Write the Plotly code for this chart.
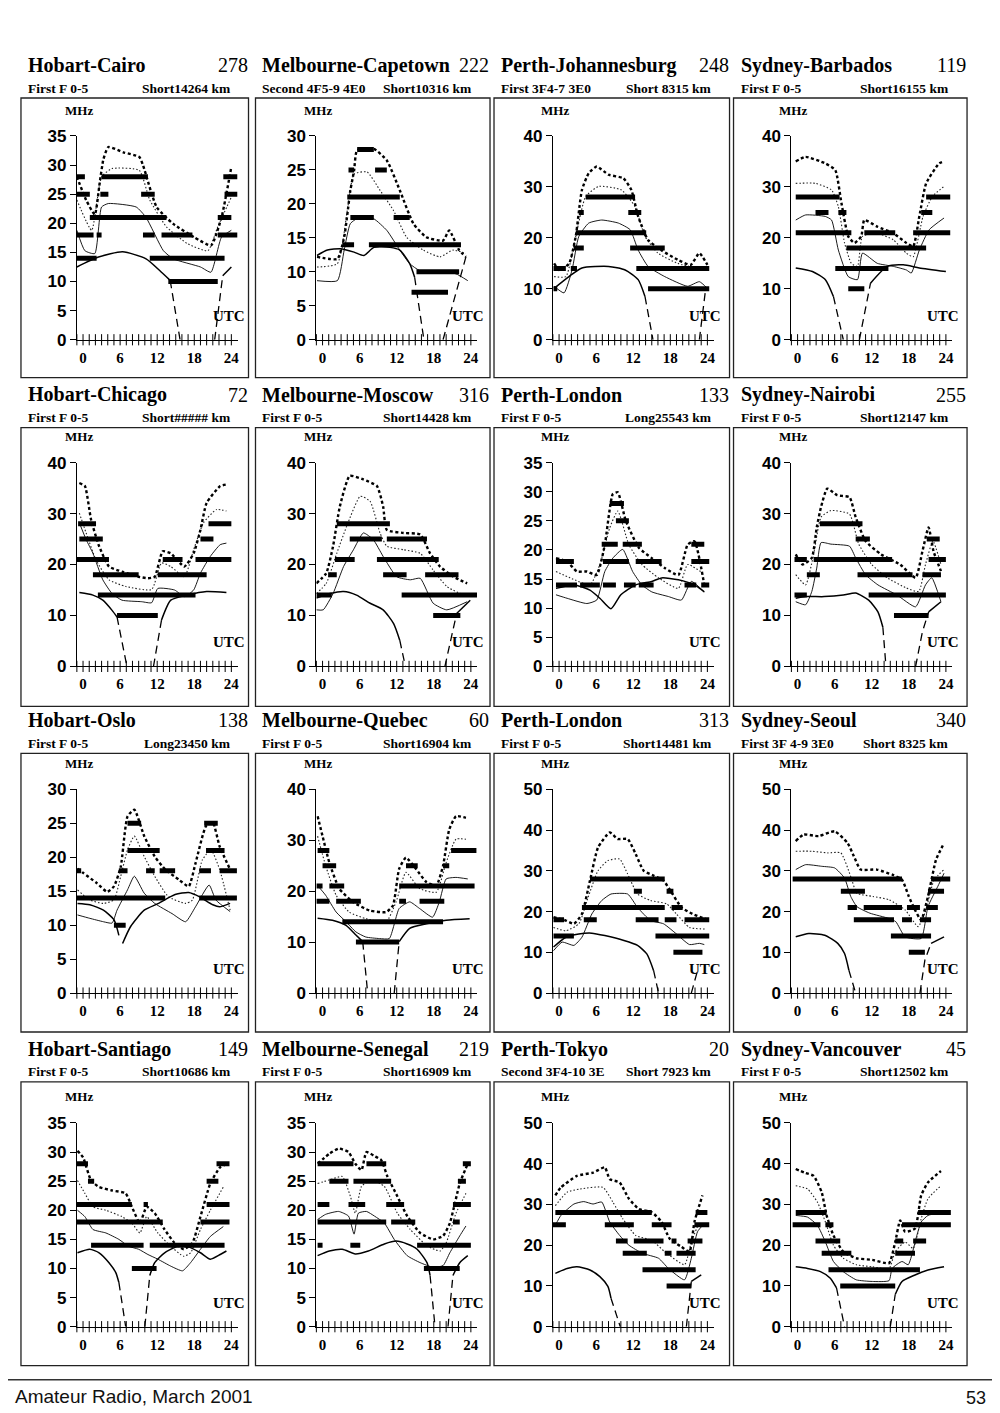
import plotly.graph_objects as go

# ---------------- panel text ----------------
TITLES = ["Hobart-Cairo", "Melbourne-Capetown", "Perth-Johannesburg", "Sydney-Barbados",
          "Hobart-Chicago", "Melbourne-Moscow", "Perth-London", "Sydney-Nairobi",
          "Hobart-Oslo", "Melbourne-Quebec", "Perth-London", "Sydney-Seoul",
          "Hobart-Santiago", "Melbourne-Senegal", "Perth-Tokyo", "Sydney-Vancouver"]
NUMBERS = ["278", "222", "248", "119", "72", "316", "133", "255",
           "138", "60", "313", "340", "149", "219", "20", "45"]
MODES = ["First F 0-5", "Second 4F5-9 4E0", "First 3F4-7 3E0", "First F 0-5",
         "First F 0-5", "First F 0-5", "First F 0-5", "First F 0-5",
         "First F 0-5", "First F 0-5", "First F 0-5", "First 3F 4-9 3E0",
         "First F 0-5", "First F 0-5", "Second 3F4-10 3E", "First F 0-5"]
PATHS = ["Short14264 km", "Short10316 km", "Short 8315 km", "Short16155 km",
         "Short##### km", "Short14428 km", "Long25543 km", "Short12147 km",
         "Long23450 km", "Short16904 km", "Short14481 km", "Short 8325 km",
         "Short10686 km", "Short16909 km", "Short 7923 km", "Short12502 km"]
Y_MAX = [35, 30, 40, 40, 40, 40, 35, 40, 30, 40, 50, 50, 35, 35, 50, 50]
Y_STEP = [5, 5, 10, 10, 10, 10, 5, 10, 5, 10, 10, 10, 5, 5, 10, 10]
X_TICKS = [0, 6, 12, 18, 24]
HOUR_MARKS = list(range(-1, 25))

# ---------------- data: (UTC hour, MHz) ----------------
P01_UP = [(-1, 28), (0.5, 24), (1.9, 21.5), (2.7, 27), (3.3, 31), (4.1, 33.1), (6.5, 32.2), (9.1, 31.4), (9.7, 30),
          (11.9, 22.8), (14.6, 19.9), (18, 17.6), (20.7, 16.2), (22.4, 21), (24, 29.7)]
P01_MID = [(-1, 24), (1.4, 18.8), (3, 28), (4.7, 29.4), (9.1, 29.1), (10.8, 24), (13.5, 19.4), (16.9, 16.5),
           (20.2, 15.3), (21.8, 19.4), (24, 24.5)]
P01_LOW = [(-1, 18.8), (0.3, 15.3), (1.9, 14.8), (3, 22.8), (4.1, 23.4), (8.6, 22.8), (10.2, 21), (13, 15.3),
           (14.6, 13.9), (19, 12.5), (20.7, 11.6), (22.4, 17.6), (24, 18.8)]
P01_ALF = [(-1, 12.5), (2.5, 14.2), (6.4, 15.1), (10.2, 13.9), (12.4, 11.9), (14.1, 10.2), None, (22.6, 11), (24, 12.5)]
P01_DASH = [(14.1, 10.2), (15.7, 0), None, (21.3, 0), (22.6, 11)]
P01_BARS = [(28, -1, 0.3), (28, 3, 10.5), (28, 22.7, 25), (25, -1, 1.1), (25, 2.8, 4.1), (25, 9.4, 11.6),
            (25, 22.9, 25), (21, 1.1, 13.5), (21, 21.8, 24), (18, -1, 1.7), (18, 2.2, 3), (18, 9.7, 11.6),
            (18, 12.7, 17.7), (18, 21.8, 25), (14, -1, 2.2), (14, 10.8, 22.9), (10, 13.8, 21.8)]

P02_UP = [(-0.9, 12.2), (2.4, 11.9), (3.5, 15.1), (4.5, 22), (5.1, 24.9), (5.6, 27.9), (8.3, 28.1), (10.4, 26.4),
          (12.5, 22), (14.7, 17.1), (16.8, 15.1), (19.5, 14.6), (20.5, 16.1), (22.1, 13.2), (23.2, 12.2)]
P02_MID = [(-0.9, 10.7), (2.4, 11.2), (4, 19), (5.1, 24.4), (7.2, 24.7), (9.3, 22), (11.5, 19), (13.6, 15.1),
           (16.3, 13.2), (19, 12.2), (21.1, 13.2), (23.2, 12.7)]
P02_LOW = [(-0.9, 8.7), (2.4, 8.7), (3.5, 13.2), (4.5, 17.1), (6.1, 18.1), (8.3, 17.8), (10.4, 16.1), (12.5, 13.2),
           (14.1, 11.2), (15.7, 10.2), (19, 10), (21.6, 9.7), (23.5, 8.7)]
P02_ALF = [(-0.9, 12.4), (0.8, 13.2), (2.9, 13.4), (5.1, 12.9), (6.7, 12.4), (8.3, 13.6), (10.9, 13.6), (12.5, 13.2),
           (14.1, 11.2), (14.9, 9.2)]
P02_DASH = [(14.9, 9.2), (16.4, 0), None, (19.5, 0), (23.2, 12.2)]
P02_BARS = [(28, 5.6, 8.3), (25, 4.2, 5.1), (25, 8.5, 10.4), (21, 4, 12.5), (18, 4.5, 8.3), (18, 11.5, 14.1),
            (14, 3.2, 5.1), (14, 7.5, 22.4), (10, 15.2, 22.1), (7, 14.4, 20.3)]

P03_UP = [(-0.8, 15), (0, 13.7), (1.6, 14.9), (2.7, 20.3), (3.7, 29.4), (4.8, 32.7), (6.1, 34), (8, 32.4),
          (10.4, 31.7), (11.7, 29.4), (12.8, 24.2), (14.4, 19.6), (16.5, 17.6), (19.2, 15.7), (21.3, 14.7),
          (22.7, 17), (24, 14.7)]
P03_MID = [(-0.8, 12.4), (1.1, 12.4), (2.7, 20.3), (4.3, 28.1), (6.4, 30.1), (10.1, 29.4), (12.3, 26.1),
           (13.9, 20.3), (16, 17), (19.2, 15), (23.5, 13.7)]
P03_LOW = [(-0.8, 10.5), (0.8, 9.2), (2.1, 13.7), (3.2, 20.3), (4.8, 22.9), (6.9, 23.5), (9.6, 22.9), (11.5, 21.6),
           (12.8, 17.6), (14.4, 14.4), (17.1, 12.4), (20.8, 10.5), (22.7, 11.4), (24, 10.1)]
P03_ALF = [(-0.8, 10.1), (1.6, 12.4), (3.7, 14.1), (8, 14.4), (10.7, 13.7), (12.8, 11.8), (13.9, 8.5)]
P03_DASH = [(13.9, 8.5), (15.2, 0), None, (22.7, 0), (23.7, 9.8)]
P03_BARS = [(28, 4.3, 12.3), (25, 3.2, 4), (25, 11.2, 13.3), (21, 2.7, 14.1), (18, 2.4, 4), (18, 11.5, 17.1),
            (14, -0.9, 1.1), (14, 1.9, 2.9), (14, 12.5, 24.3), (10, -0.9, -0.3), (10, 14.4, 24.3)]

P04_UP = [(-0.3, 35), (1.3, 35.9), (4.5, 34.6), (6.1, 33.3), (7.1, 26.8), (8.2, 20.3), (9.2, 19), (10.3, 20.3),
          (10.8, 23.5), (12.9, 22.2), (15.5, 20.9), (17.6, 19), (18.7, 18.3), (19.7, 24.2), (20.8, 30.7),
          (22.9, 34.6), (23.7, 35)]
P04_MID = [(-0.3, 30.7), (2.9, 30.7), (5.5, 29.4), (6.6, 26.1), (7.6, 19), (8.7, 15), (9.7, 14.4), (10.5, 20.3),
           (12.9, 20.9), (15.5, 19.6), (17.6, 17), (18.7, 16.3), (20.3, 24.2), (21.8, 28.1), (23.7, 30.1)]
P04_LOW = [(-0.3, 23.5), (1.3, 24.5), (4.5, 24.2), (5.5, 23.5), (6.6, 17.6), (8.2, 12.4), (9.7, 11.8), (10.5, 17),
           (12.9, 15), (15.5, 14.4), (17.6, 13.7), (18.4, 13.1), (19.7, 17.6), (21.3, 21.6), (23.7, 23.9)]
P04_ALF = [(-0.3, 14.1), (2.4, 13.4), (4.5, 11.8), (5.8, 8.5), None, (11.8, 11.1), (14.5, 14.4), (17.1, 14.7),
           (19.7, 14.1), (24, 13.4)]
P04_DASH = [(5.8, 8.5), (7.4, 0), None, (10, 0), (11.8, 11.1)]
P04_BARS = [(28, -0.3, 6.8), (28, 20.8, 24.7), (25, 2.9, 5), (25, 6.6, 7.9), (25, 20, 21.8), (21, -0.3, 8.7),
            (21, 10.8, 15.8), (21, 18.7, 24.7), (18, 7.9, 20.8), (14, 6.1, 14.7), (10, 8.2, 10.8)]

P05_UP = [(-0.6, 36), (0.3, 35.4), (1.3, 28.8), (2.6, 23.6), (4.2, 19.6), (6.3, 18.6), (9, 17.6), (10.5, 17.3),
          (11.6, 17.6), (12.9, 22.6), (14.2, 22.2), (16.4, 19.6), (17.9, 22.2), (19, 26.8), (20, 32.1),
          (22.2, 35.4), (23.2, 35.7)]
P05_MID = [(-0.6, 30.1), (0.5, 26.2), (2.1, 20.9), (4.2, 17), (6.9, 15.7), (11.1, 15.1), (12.7, 20.3), (14.2, 19.6),
           (16.4, 17.6), (17.9, 22.9), (19.5, 28.2), (21.6, 30.8), (23.2, 30.5)]
P05_LOW = [(-0.6, 28.2), (0.5, 24.9), (1.6, 22.2), (3.2, 17), (4.7, 14.3), (6.3, 13), (9.5, 12.7), (11.1, 12.5),
           (12.1, 15.3), (14.8, 15), (16.4, 13.7), (17.9, 15), (19, 18.3), (20.6, 21.6), (22.2, 23.9), (23.2, 24.2)]
P05_ALF = [(-0.6, 14.5), (1.6, 14), (3.2, 13), (4.7, 11), (5.5, 9.7), None, (12.7, 9.1), (14.2, 13), (16.9, 14),
           (20, 14.7), (23.2, 14.5)]
P05_DASH = [(5.5, 9.7), (7.1, 0), None, (11.4, 0), (12.7, 9.1)]
P05_BARS = [(28, -0.8, 2.1), (28, 20.3, 24), (25, -0.6, 3.2), (25, 19, 21.1), (21, -1, 4.2), (21, 12.9, 16.1),
            (21, 18.2, 24), (18, 1.6, 9), (18, 12.1, 20), (14, 2.4, 18.2), (10, 5.5, 12.1)]

P06_UP = [(-1, 16.3), (0.6, 18.3), (1.7, 23.6), (2.8, 31.4), (4.4, 37.4), (6.6, 36.7), (8.8, 35.4), (9.8, 31.4),
          (10.4, 26.8), (13.1, 26.2), (15.8, 25.9), (17.4, 22.2), (19, 19.6), (21.2, 17.6), (23.4, 16.3)]
P06_MID = [(-1, 14.3), (0.6, 16.3), (2.3, 22.2), (3.9, 27.5), (6.1, 33.4), (7.7, 32.4), (9.3, 26.2), (10.4, 23.6),
           (13.1, 22.9), (15.8, 22.2), (17.9, 18.9), (20.1, 15.7), (22.8, 14)]
P06_LOW = [(-1, 11.1), (0.1, 11.1), (1.7, 14.3), (3.4, 19.6), (5, 22.9), (6.6, 26.2), (8.2, 24.9), (9.8, 21.6),
           (12, 17.6), (14.2, 17), (15.8, 17.3), (17.9, 12.4), (20.1, 11.1), (23.4, 12.7)]
P06_ALF = [(-1, 13.4), (1.2, 14.3), (3.4, 14.7), (5.5, 14), (7.7, 12.4), (9.8, 11.1), (11.5, 8.4), (12.5, 5.1),
           None, (21.7, 10.4), (23.9, 13)]
P06_DASH = [(12.5, 5.1), (13.4, 0), None, (19.8, 0), (21.7, 10.4)]
P06_BARS = [(28, 2.3, 10.9), (25, 4.4, 9.6), (25, 10.4, 16.9), (21, 2, 5.2), (21, 8.8, 18.8), (18, 0.9, 2.3),
            (18, 9.8, 13.6), (18, 16.6, 22), (14, -1, 1.5), (14, 12.8, 25), (10, 17.9, 22.3)]

P07_UP = [(-0.5, 18.6), (1.3, 18), (2.9, 16.3), (4.5, 16.3), (6.1, 15.7), (7.4, 20.9), (8.7, 29.6), (9.5, 29.9),
          (10.8, 25), (12.9, 20.4), (15, 18.6), (17.1, 16.9), (19.3, 15.7), (20.8, 20.9), (21.9, 21.5), (23.5, 14)]
P07_MID = [(-0.5, 16.3), (1.8, 15.2), (5, 14), (6.6, 17.5), (8.2, 23.8), (9.5, 26.7), (11.3, 20.9), (13.4, 17.5),
           (16.1, 15.2), (19.3, 13.4), (20.8, 17.5), (22.9, 16.3)]
P07_LOW = [(-0.5, 12.3), (1.3, 11.7), (4.5, 10.8), (6.1, 11.4), (7.4, 16.3), (8.7, 18.6), (10.3, 20.1),
           (11.9, 16.3), (13.4, 14), (15, 12.8), (17.7, 12), (19.8, 11.4), (21.4, 14.6), (23.5, 12.8)]
P07_ALF = [(-0.5, 13.4), (2.4, 14), (5, 13.1), (6.6, 11.7), (8.4, 9.9), (10, 12.3), (12.4, 14), (15, 14.6),
           (16.6, 15.2), (19.3, 14.9), (21.9, 14), (23.5, 12.8)]
P07_DASH = []
P07_BARS = [(28, 8.2, 10.5), (25, 9.2, 11.3), (21, 6.9, 9.5), (21, 10.3, 13.4), (21, 21.4, 23.5), (18, -0.5, 2.4),
            (18, 7.1, 11.3), (18, 12.4, 16.6), (18, 21.4, 24.3), (14, -0.5, 2.9), (14, 3.4, 6.6), (14, 7.1, 9.2),
            (14, 10.5, 12.4), (14, 12.9, 15.3), (14, 20.3, 22.2), (14, 23, 24.3)]

P08_UP = [(-0.3, 22), (0.8, 20), (2.3, 21.3), (3.1, 27.3), (3.8, 31.3), (4.8, 34.9), (6.4, 33.6), (8.4, 33.2),
          (9.4, 29.3), (11, 24.6), (13.5, 22), (16.6, 20), (19.1, 17.4), (20.2, 22.6), (21.2, 27.3), (22, 22.6),
          (23.2, 18.7)]
P08_MID = [(-0.3, 18), (1.3, 16), (2.6, 22), (3.8, 29.3), (5.4, 30.6), (8.4, 29.9), (9.9, 24), (12, 20),
           (14.5, 17.4), (17.6, 15.4), (19.6, 14.7), (20.7, 20), (21.9, 24.6), (23.2, 20)]
P08_LOW = [(-0.3, 12.7), (1.3, 12.1), (2.3, 14.7), (3.1, 19.3), (3.8, 24.3), (5.4, 24), (8.4, 23.6), (9.4, 21.3),
           (11, 18), (13, 16), (16.1, 14), (19.1, 11.7), (20.7, 16), (21.7, 17.4), (23.2, 12.7)]
P08_ALF = [(-0.3, 13.4), (1.3, 13.7), (4.3, 13.7), (7.4, 14), (9.4, 14.4), (11.5, 13), (13, 10.7), (13.8, 7.7),
           None, (21.2, 10.7), (23.2, 12.7)]
P08_DASH = [(13.8, 7.7), (14.3, 0), None, (19.1, 0), (20.2, 6.8), (21.2, 10.7)]
P08_BARS = [(28, 3.6, 10.5), (25, 9.4, 11.7), (25, 20.9, 23), (21, -0.5, 1.5), (21, 2.6, 15.3), (21, 21.2, 24),
            (18, 1.5, 3.6), (18, 9.7, 18.6), (18, 20.2, 23.2), (14, -0.5, 1.5), (14, 11.5, 24), (10, 15.6, 21.2)]

P09_UP = [(-0.9, 18.3), (0, 17.7), (2.2, 16.2), (3.9, 14.9), (5, 15.7), (6.1, 18.6), (7.2, 26), (8.3, 27),
          (9.9, 23.1), (11.6, 20.1), (13.3, 18.2), (15.5, 16.7), (17.1, 15.7), (18.2, 19.1), (19.9, 24.6),
          (21, 25.1), (22.1, 21.6), (23.8, 18.2)]
P09_MID = [(-0.9, 15.2), (1.1, 13.7), (3.3, 13.2), (5, 13.7), (6.1, 17.2), (7.2, 21.1), (8.3, 23.1), (9.9, 20.1),
           (11.6, 17.2), (13.8, 14.2), (16.6, 13.2), (17.7, 13.7), (19.3, 19.6), (20.7, 21.1), (22.1, 18.2),
           (23.8, 12.2)]
P09_LOW = [(-0.9, 11.5), (1.1, 11), (3.3, 10.5), (4.7, 10.3), (5.5, 12.2), (7.2, 15.2), (8.3, 17.2), (9.9, 14.7),
           (11.6, 13.2), (14.4, 11.7), (16.6, 10.5), (18.2, 12.7), (20.4, 15.9), (21.5, 13.7), (23.8, 12)]
P09_ALF = [(-0.9, 13.2), (1.1, 13), (3.3, 12.2), (5, 10.8), (5.8, 8.5), None, (6.4, 7.3), (7.7, 9.8), (9.9, 12.2),
           (12.2, 13.2), (14.9, 14.5), (17.1, 14.8), (18.8, 14.2), (21, 13), (22.1, 12.7), (23.8, 13.2)]
P09_DASH = []
P09_BARS = [(25, 7.2, 9.4), (25, 19.6, 21.8), (21, 7.2, 12.4), (21, 19.9, 22.9), (18, -1, -0.3), (18, 5.8, 7.2),
            (18, 10.2, 11.6), (18, 12.4, 14.9), (18, 18.8, 20.7), (18, 22.1, 24.9), (14, -1, 13.3),
            (14, 18.8, 24.9), (10, 5, 6.9)]

P10_UP = [(-0.8, 34.7), (0, 30.8), (1.1, 25.6), (2.7, 20.5), (4.9, 17.9), (7.6, 16.2), (10.3, 15.9), (11.4, 17.2),
          (12.4, 24.4), (13.5, 26.6), (15.1, 24.4), (16.8, 21.8), (18.4, 21.1), (19.5, 25), (20.5, 32.1),
          (21.6, 34.7), (23.2, 34.4)]
P10_MID = [(-0.8, 30.8), (0.5, 25), (2.2, 19.2), (4.3, 15.9), (7, 14.6), (10.3, 14), (11.9, 17.9), (13.5, 23.7),
           (15.7, 20.5), (18.4, 19.8), (20, 25.6), (21.6, 30.2), (23.2, 30.2)]
P10_LOW = [(-0.8, 21.1), (0.5, 19.2), (2.2, 15.9), (3.8, 14), (5.4, 12), (7, 11), (9.2, 10.7), (10.8, 10.7),
           (12.4, 16.6), (14.1, 17.9), (15.7, 16.6), (17.8, 14.9), (18.9, 17.9), (20, 22.4), (21.6, 22.7),
           (23.5, 22.4)]
P10_ALF = [(-0.8, 14.7), (1.6, 14.3), (3.8, 13.3), (5.4, 11.4), (6.5, 10.1), None, (12.4, 10.1), (14.1, 12.7),
           (16.8, 13.6), (20, 14.3), (23.8, 14.6)]
P10_DASH = [(6.5, 10.1), (7.3, 0), None, (11.6, 0), (12.4, 10.1)]
P10_BARS = [(28, -0.8, 1.1), (28, 20.8, 24.9), (25, 0, 2.2), (25, 13.5, 15.4), (25, 19.5, 20.5), (21, -1, 0),
            (21, 1.1, 3.5), (21, 12.4, 24.6), (18, -1, 1.1), (18, 2.2, 6.2), (18, 12.4, 13.5), (18, 15.7, 19.7),
            (14, 3.2, 19.5), (10, 5.4, 12.4)]

P11_UP = [(-0.9, 18.6), (1.1, 17.8), (2.4, 17), (3.7, 19.4), (5, 27.6), (6.3, 35.7), (8.2, 39.4), (9.5, 37.8),
          (11.1, 37.8), (12.4, 34.1), (13.7, 30), (15.3, 28.8), (16.9, 27.6), (18.2, 24.7), (19.8, 21),
          (21.6, 19.4), (23.7, 18.2)]
P11_MID = [(-0.9, 16.1), (1.1, 15.3), (3.2, 17), (4.7, 23.5), (6.3, 30), (7.9, 32.5), (9.8, 32.9), (11.1, 29.2),
           (12.7, 24.3), (14.8, 22.7), (17.4, 21.9), (19, 19.4), (21.1, 16.1), (23.7, 15.7)]
P11_LOW = [(-0.9, 10.4), (0.5, 12.5), (2.4, 11.7), (3.7, 13.7), (5.3, 19.4), (6.9, 22.7), (8.4, 24.3), (11.1, 24.3),
           (12.7, 21), (14.8, 17.8), (16.9, 17), (19, 14.5), (21.1, 11.9), (22.7, 12.2), (23.5, 11.9)]
P11_ALF = [(-0.9, 11.3), (1.1, 13.7), (3.2, 14.5), (5.3, 14.7), (7.4, 14.1), (10.5, 12.9), (12.7, 11.7),
           (14.2, 9.6), (15.3, 5.5)]
P11_DASH = [(15.3, 5.5), (16.1, 0), None, (21.4, 0), (22.4, 5.5)]
P11_BARS = [(28, 5, 17.1), (25, 12.1, 13.4), (25, 17.4, 18.5), (21, 3.7, 17.1), (21, 18.2, 20), (18, -0.9, 0.8),
            (18, 4, 6.1), (18, 12.4, 16.1), (18, 17.1, 19), (18, 20.3, 24.3), (14, -0.9, 2.4), (14, 15.6, 24.3),
            (10, 18.5, 23.2)]

P12_UP = [(-0.3, 37.3), (1, 38.9), (3.4, 38.5), (6, 39.7), (8.1, 36.8), (9.1, 33.6), (10.2, 30.3), (12.8, 30.3),
          (15.4, 29), (16.9, 27.8), (18, 23.7), (19, 20.4), (20, 17.9), (21.1, 23.7), (22.4, 32.7), (23.7, 36.8)]
P12_MID = [(-0.3, 34.8), (2.3, 34.8), (4.9, 34.4), (7, 34.4), (8.6, 28.6), (9.6, 24.5), (12.2, 23.7), (14.8, 22.9),
           (17.4, 20.4), (19.5, 16.3), (20.6, 19.6), (22.1, 27.8), (23.7, 30.3)]
P12_LOW = [(-0.3, 30.3), (1.3, 31.5), (3.9, 31.1), (6, 30.7), (7.6, 28.2), (8.6, 23.7), (9.6, 21.2), (11.7, 19.6),
           (14.8, 18.3), (15.9, 17.5), (17.4, 13.8), (20, 13.4), (21.1, 21.2), (22.7, 26.2), (23.7, 29.4)]
P12_ALF = [(-0.3, 13.8), (1.8, 14.6), (4.4, 14.2), (6.5, 12.2), (7.6, 9.7), (8.3, 5.6), None, (21.6, 12.2),
           (23.7, 13.8)]
P12_DASH = [(8.3, 5.6), (9.4, 0), None, (19.8, 0), (20.6, 8.1), (21.6, 12.2)]
P12_BARS = [(28, -0.8, 16.9), (28, 21.6, 24.7), (25, 7, 10.9), (25, 21.1, 23.7), (21, 8.1, 9.6), (21, 10.7, 16.9),
            (21, 17.7, 19.8), (21, 20.8, 22.7), (18, 9.1, 15.6), (18, 16.9, 18.5), (18, 19.8, 21.6),
            (14, 15.1, 21.6), (10, 18, 20.6)]

P13_UP = [(-0.9, 30.2), (0, 29.1), (1.3, 25.1), (2.6, 24), (4.7, 23.4), (6.9, 22.9), (7.9, 20.6), (9.2, 17.8),
          (10.3, 20.6), (11.6, 19.5), (13.2, 16.7), (14.8, 14.4), (16.3, 13.3), (17.7, 14.4), (19, 18.9),
          (20.6, 24.6), (22.2, 27.4), (23.5, 28)]
P13_MID = [(-0.9, 25.1), (0.3, 22.9), (1.6, 20.6), (3.7, 20), (6.3, 18.9), (7.9, 17.8), (9.2, 16.1), (10.3, 18.9),
           (12.1, 16.1), (14.2, 13.8), (16.3, 12.1), (17.4, 12.7), (19, 16.7), (20.6, 20), (22.7, 24)]
P13_LOW = [(-0.9, 20), (0.3, 18.9), (1.6, 16.7), (3.7, 16.1), (5.8, 15), (7.4, 13.8), (9, 13.3), (10.5, 12.4),
           (12.1, 11.6), (14.2, 10.4), (16.1, 9.6), (17.4, 11), (19, 13.3), (20.6, 15.5), (22.7, 17.2)]
P13_ALF = [(-0.9, 12.7), (1.1, 13.3), (2.6, 12.7), (4.2, 11), (5.3, 9.3), (5.8, 7.6), None, (10.8, 8.8),
           (11.6, 11), (13.2, 12.7), (15.3, 13.8), (16.9, 13.8), (19, 12.7), (20.6, 11.6), (22.2, 12.4), (23.2, 13)]
P13_DASH = [(5.8, 7.6), (6.9, 0), None, (10, 0), (10.8, 8.8)]
P13_BARS = [(28, -1, 0.8), (28, 21.6, 23.7), (25, 0.8, 1.8), (25, 20, 21.9), (21, -1, 7.9), (21, 9.8, 10.5),
            (21, 20, 23.7), (18, -1, 12.9), (18, 19, 23.7), (14, 1.3, 9.8), (14, 10.8, 22.9), (10, 7.9, 11.9)]

P14_UP = [(-0.8, 28), (1.1, 29.7), (2.6, 30.6), (4.2, 30), (5.3, 28), (6.3, 26.9), (7.1, 30), (8.4, 29.3),
          (9.5, 28.6), (10.5, 25.8), (12.1, 22.4), (13.7, 19), (15.8, 16.1), (17.9, 15), (19.5, 15.6),
          (20.6, 17.8), (22.2, 24.6), (23.5, 28)]
P14_MID = [(-0.8, 24.6), (1.1, 25.2), (3.2, 25.8), (4.5, 22.4), (5.3, 19.5), (6.3, 24.1), (7.9, 25.2), (10, 24.1),
           (12.1, 19.5), (14.2, 16.7), (16.9, 13.9), (19, 13), (20, 14.4), (21.6, 19.5), (23.2, 22.9)]
P14_LOW = [(-0.8, 18.4), (0.5, 19.3), (2.6, 19.8), (4.2, 19), (5.1, 15.9), (5.8, 19.5), (7.1, 19.8), (8.4, 19),
           (10, 17.8), (11.6, 15), (13.7, 12.2), (15.8, 11), (17.9, 10.2), (19.5, 10.5), (20.6, 12.7), (22.2, 15.6),
           (23.2, 17.3)]
P14_ALF = [(-0.8, 12.2), (1.1, 13), (3.2, 13.3), (5.3, 12.5), (7.4, 13), (10, 14.2), (11.9, 14.7), (13.7, 14.2),
           (15.3, 13.3), (16.9, 11), (17.4, 8.8), None, (21.1, 8.8), (22.2, 11), (23.5, 12.2)]
P14_DASH = [(17.4, 8.8), (18.2, 0), None, (20.3, 0), (21.1, 8.8)]
P14_BARS = [(28, -0.8, 5), (28, 7.1, 10.3), (28, 22.7, 24), (25, 1.1, 4.2), (25, 5, 11.1), (25, 21.9, 23.2),
            (21, -0.8, 1.1), (21, 4.2, 6.9), (21, 10.3, 13.2), (21, 21.1, 24), (18, -0.8, 10.3), (18, 11.1, 15),
            (18, 21.1, 22.2), (14, -0.8, 0), (14, 4.5, 6.1), (14, 15.3, 24), (10, 16.4, 22.2)]

P15_UP = [(-0.6, 32.2), (0.3, 34.2), (2.9, 37), (5.5, 37.8), (7.4, 39.1), (8.2, 36.2), (9.8, 35.4), (11.3, 31.4),
          (12.9, 28.9), (15, 28.1), (16.6, 25.7), (17.9, 21.6), (19.8, 19.6), (21.1, 18.4), (21.9, 25.7),
          (23.2, 32.2)]
P15_MID = [(-0.6, 29.7), (1.3, 33), (3.4, 33.8), (7.1, 34.2), (8.7, 30.6), (10.3, 26.5), (12.4, 22.4), (15, 21.2),
           (17.1, 18.4), (20.3, 15.2), (21.4, 20.8), (22.7, 25.7)]
P15_LOW = [(-0.6, 24.9), (0.3, 27.3), (2.4, 30.1), (4, 30.7), (5.5, 30.1), (6.9, 30.6), (8.2, 25.7), (9.8, 22.4),
           (11.3, 20), (13.5, 18), (16.1, 16.8), (17.7, 14.3), (20.3, 11.5), (21.4, 16.8), (22.4, 23.3),
           (23.5, 25.3)]
P15_ALF = [(-0.6, 13.1), (1.3, 14.3), (2.9, 14.7), (5, 13.9), (6.6, 12.3), (7.9, 9.9), (8.4, 7), None,
           (21.4, 11.1), (23, 12.7)]
P15_DASH = [(8.4, 7), (9.9, 0), None, (20.6, 0), (21.4, 11.1)]
P15_BARS = [(28, -0.6, 15), (28, 22.1, 24), (25, -1, 1.1), (25, 7.4, 12.1), (25, 15, 18.2), (25, 21.9, 24.3),
            (21, 9.2, 11.1), (21, 12.1, 16.9), (21, 18.2, 19), (21, 20.8, 23.2), (18, 10.3, 14.2),
            (18, 17.1, 18.2), (18, 19, 22.1), (14, 13.5, 22.1), (10, 17.4, 21.4)]

P16_UP = [(-0.3, 38.7), (1.1, 37.8), (2.6, 37), (3.9, 33), (4.7, 27.3), (5.8, 22.4), (7.4, 18.4), (9.5, 16.8),
          (12.1, 16.4), (14.8, 15.6), (15.8, 20.8), (16.6, 26.1), (17.4, 23.3), (19, 24.1), (20, 32.2),
          (21.1, 35.4), (23.2, 38.2)]
P16_MID = [(-0.3, 34.6), (1.6, 33.8), (3.2, 30.6), (4.5, 25.7), (5.8, 20), (7.4, 16.8), (9.5, 15.2), (12.1, 14.7),
           (14.8, 14.3), (15.8, 18.4), (17.4, 20.8), (18.7, 19.2), (20, 26.5), (21.1, 31.4), (23.2, 34.6)]
P16_LOW = [(-0.3, 27.3), (1.6, 26.9), (3.2, 24.9), (4.5, 20.8), (5.8, 16), (7.4, 13.5), (9.5, 11.5), (12.1, 11.1),
           (14.8, 11.3), (15.3, 14.3), (16.9, 16), (17.9, 15.2), (19.3, 22.4), (20, 25.7), (21.1, 27.3),
           (23.5, 28.1)]
P16_ALF = [(-0.3, 14.7), (1.6, 14.3), (3.7, 13.5), (5.3, 11.9), (6.3, 9.5), None, (15.8, 7.9), (16.9, 11.1),
           (19, 12.7), (21.1, 13.9), (23.7, 14.7)]
P16_DASH = [(6.3, 9.5), (7.6, 0), None, (15, 0), (15.8, 7.9)]
P16_BARS = [(28, -0.3, 4.7), (28, 19.5, 24.8), (25, -0.8, 3.7), (25, 4.5, 5.8), (25, 16.9, 24.8), (21, 2.9, 6.9),
            (21, 15.8, 17.1), (21, 18.7, 20.8), (18, 3.9, 8.7), (18, 15.8, 19), (14, 5, 19.8), (10, 6.9, 15.8)]

UPS = [P01_UP, P02_UP, P03_UP, P04_UP, P05_UP, P06_UP, P07_UP, P08_UP,
       P09_UP, P10_UP, P11_UP, P12_UP, P13_UP, P14_UP, P15_UP, P16_UP]
MIDS = [P01_MID, P02_MID, P03_MID, P04_MID, P05_MID, P06_MID, P07_MID, P08_MID,
        P09_MID, P10_MID, P11_MID, P12_MID, P13_MID, P14_MID, P15_MID, P16_MID]
LOWS = [P01_LOW, P02_LOW, P03_LOW, P04_LOW, P05_LOW, P06_LOW, P07_LOW, P08_LOW,
        P09_LOW, P10_LOW, P11_LOW, P12_LOW, P13_LOW, P14_LOW, P15_LOW, P16_LOW]
ALFS = [P01_ALF, P02_ALF, P03_ALF, P04_ALF, P05_ALF, P06_ALF, P07_ALF, P08_ALF,
        P09_ALF, P10_ALF, P11_ALF, P12_ALF, P13_ALF, P14_ALF, P15_ALF, P16_ALF]
DASHES = [P01_DASH, P02_DASH, P03_DASH, P04_DASH, P05_DASH, P06_DASH, P07_DASH, P08_DASH,
          P09_DASH, P10_DASH, P11_DASH, P12_DASH, P13_DASH, P14_DASH, P15_DASH, P16_DASH]
BARS = [P01_BARS, P02_BARS, P03_BARS, P04_BARS, P05_BARS, P06_BARS, P07_BARS, P08_BARS,
        P09_BARS, P10_BARS, P11_BARS, P12_BARS, P13_BARS, P14_BARS, P15_BARS, P16_BARS]

# ---------------- page geometry (target page pixels) ----------------
BODY = 8                       # default browser body margin
W, H = 984, 1413               # figure size
Y_SCALE, Y_OFF = 0.9876, 8.0   # observed vertical mapping of the captured page
BOX_L = [21, 256, 495, 735]
BOX_R = [249, 491, 731, 969]
BOX_T = [97, 427, 753, 1082]
BOX_B = [377, 706, 1032, 1366]
AXIS_PX = [77, 317, 554, 793]
ZERO_PX = [339, 666, 993, 1327]
PLOT_W = 161
PLOT_H = 204

SERIF = "Liberation Serif"
SANS = "Liberation Sans"


def px(x):
    return (x - BODY) / W


def py(y):
    page_y = (y - Y_OFF) / Y_SCALE
    return 1 - (page_y - BODY) / H


def split(points):
    xs, ys = [], []
    for p in points:
        if p is None:
            xs.append(None)
            ys.append(None)
        else:
            xs.append(p[0])
            ys.append(p[1])
    return xs, ys


fig = go.Figure()
layout = {}
annotations = []
shapes = []

for i in range(16):
    r, c = divmod(i, 4)
    n = i + 1
    xa = "x" if n == 1 else f"x{n}"
    ya = "y" if n == 1 else f"y{n}"
    xkey = "xaxis" if n == 1 else f"xaxis{n}"
    ykey = "yaxis" if n == 1 else f"yaxis{n}"

    x0 = AXIS_PX[c]
    zero = ZERO_PX[r]
    layout[xkey] = dict(
        domain=[px(x0), px(x0 + PLOT_W)], range=[-1, 25], anchor=ya,
        showline=True, linecolor="black", linewidth=1, showgrid=False, zeroline=False,
        tickmode="array", tickvals=X_TICKS, ticktext=[str(v) for v in X_TICKS], ticks="",
        tickfont=dict(family=SERIF, size=15, color="black", weight="bold"),
        ticklabelstandoff=4, fixedrange=True)
    layout[ykey] = dict(
        domain=[py(zero), py(zero - PLOT_H)], range=[0, Y_MAX[i]], anchor=xa,
        showline=True, linecolor="black", linewidth=1, showgrid=False, zeroline=False,
        tickmode="array", tickvals=list(range(0, Y_MAX[i] + 1, Y_STEP[i])),
        ticks="outside", ticklen=6, tickwidth=1, tickcolor="black",
        tickfont=dict(family=SANS, size=17, color="black", weight="bold"), fixedrange=True)

    common = dict(xaxis=xa, yaxis=ya, showlegend=False, hoverinfo="skip")

    # hour tick crosses on the time axis
    fig.add_trace(go.Scatter(x=HOUR_MARKS, y=[0] * len(HOUR_MARKS), mode="markers", cliponaxis=False,
                             marker=dict(symbol="line-ns", size=8, line=dict(width=1, color="black")),
                             **common))

    xs, ys = split(LOWS[i])
    fig.add_trace(go.Scatter(x=xs, y=ys, mode="lines",
                             line=dict(color="black", width=0.9, shape="spline", smoothing=0.5), **common))
    xs, ys = split(MIDS[i])
    fig.add_trace(go.Scatter(x=xs, y=ys, mode="lines",
                             line=dict(color="#222222", width=1.1, dash="1.5px,2px", shape="spline",
                                       smoothing=0.5), **common))
    xs, ys = split(UPS[i])
    fig.add_trace(go.Scatter(x=xs, y=ys, mode="lines",
                             line=dict(color="black", width=2.4, dash="3px,2.5px", shape="spline",
                                       smoothing=0.5), **common))
    xs, ys = split(ALFS[i])
    fig.add_trace(go.Scatter(x=xs, y=ys, mode="lines",
                             line=dict(color="black", width=1.5, shape="spline", smoothing=0.6), **common))
    if DASHES[i]:
        xs, ys = split(DASHES[i])
        fig.add_trace(go.Scatter(x=xs, y=ys, mode="lines",
                                 line=dict(color="black", width=1.3, dash="8px,5px"), **common))
    bx, by = [], []
    for f, a, b in BARS[i]:
        bx += [a, b, None]
        by += [f, f, None]
    fig.add_trace(go.Scatter(x=bx, y=by, mode="lines", line=dict(color="black", width=5), **common))

    # panel frame
    shapes.append(dict(type="rect", xref="paper", yref="paper",
                       x0=px(BOX_L[c]), x1=px(BOX_R[c]), y0=py(BOX_B[r]), y1=py(BOX_T[r]),
                       line=dict(color="#222222", width=1.3), fillcolor="rgba(0,0,0,0)", layer="below"))

    # texts
    annotations.append(dict(text=f"<b>{TITLES[i]}</b>", xref="paper", yref="paper",
                            x=px(BOX_L[c] + 5), y=py(BOX_T[r] - 33), xanchor="left", yanchor="middle",
                            showarrow=False, font=dict(family=SERIF, size=20, color="black")))
    annotations.append(dict(text=NUMBERS[i], xref="paper", yref="paper",
                            x=px(BOX_R[c] + 1), y=py(BOX_T[r] - 33), xanchor="right", yanchor="middle",
                            showarrow=False, font=dict(family=SERIF, size=20, color="black")))
    annotations.append(dict(text=f"<b>{MODES[i]}</b>", xref="paper", yref="paper",
                            x=px(BOX_L[c] + 5), y=py(BOX_T[r] - 10), xanchor="left", yanchor="middle",
                            showarrow=False, font=dict(family=SERIF, size=13.5, color="black")))
    annotations.append(dict(text=f"<b>{PATHS[i]}</b>", xref="paper", yref="paper",
                            x=px(BOX_R[c] - 16), y=py(BOX_T[r] - 10), xanchor="right", yanchor="middle",
                            showarrow=False, font=dict(family=SERIF, size=13.5, color="black")))
    annotations.append(dict(text="<b>MHz</b>", xref="paper", yref="paper",
                            x=px(AXIS_PX[c] + 2), y=py(zero - PLOT_H - 26), xanchor="center", yanchor="middle",
                            showarrow=False, font=dict(family=SERIF, size=13, color="black")))
    annotations.append(dict(text="<b>UTC</b>", xref="paper", yref="paper",
                            x=px(AXIS_PX[c] + 152), y=py(zero - 24), xanchor="center", yanchor="middle",
                            showarrow=False, font=dict(family=SERIF, size=15, color="black")))

# footer
shapes.append(dict(type="line", xref="paper", yref="paper", x0=px(8), x1=px(1000), y0=py(1380), y1=py(1380),
                   line=dict(color="#333333", width=1.5)))
annotations.append(dict(text="Amateur Radio, March 2001", xref="paper", yref="paper", x=px(13), y=py(1397),
                        xanchor="left", yanchor="middle", showarrow=False,
                        font=dict(family=SANS, size=19, color="#111111")))
annotations.append(dict(text="53", xref="paper", yref="paper", x=px(990), y=py(1398),
                        xanchor="right", yanchor="middle", showarrow=False,
                        font=dict(family=SANS, size=18, color="#111111")))

fig.update_layout(**layout)
fig.update_layout(width=W, height=H, autosize=False, margin=dict(l=0, r=0, t=0, b=0, pad=0),
                  paper_bgcolor="white", plot_bgcolor="rgba(0,0,0,0)", showlegend=False,
                  annotations=annotations, shapes=shapes)
fig.write_html("out.html", include_plotlyjs=True, config={"displayModeBar": False, "staticPlot": True})
